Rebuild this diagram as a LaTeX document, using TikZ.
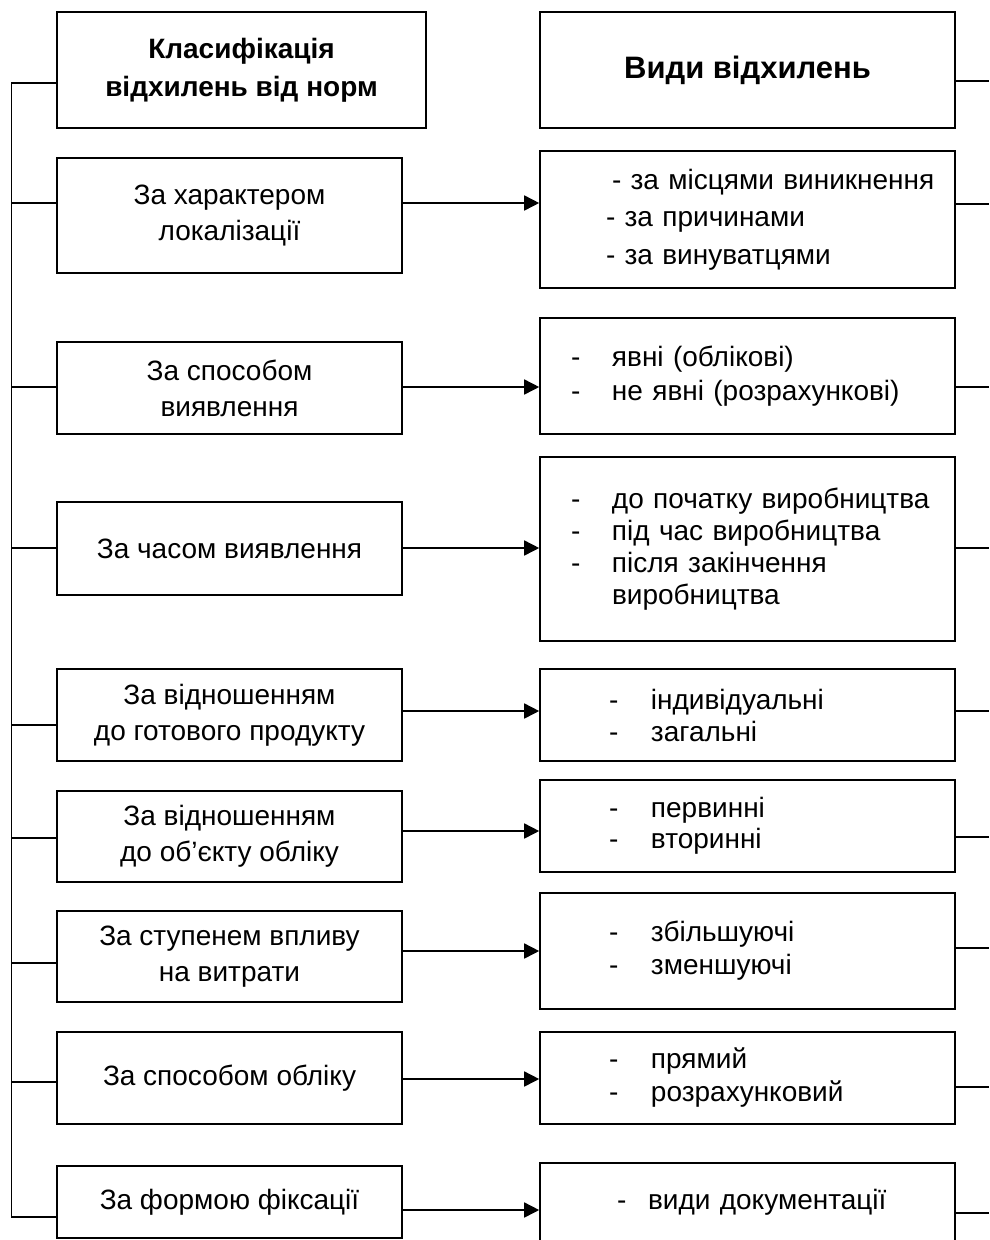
\documentclass[tikz,border=0pt]{standalone}
\usepackage{fontspec}
\setmainfont{Liberation Sans}
\usetikzlibrary{arrows.meta}
\newcommand\itm[3]{\makebox[0pt][l]{\hspace*{#1pt}-}\hspace*{#2pt}#3}
\begin{document}
\begin{tikzpicture}[x=1pt,y=-1pt,
  box/.style={draw, line width=1.6pt, inner sep=0pt, align=center,
    font=\fontsize{28}{36}\selectfont},
  lbox/.style={box, minimum width=345pt},
  rbox/.style={box, minimum width=415pt, text width=415pt, align=left},
  hdr/.style={box, font=\fontsize{28}{38}\selectfont\bfseries},
  conn/.style={line width=1.6pt},
  arr/.style={conn, -{Triangle[length=15pt,width=15pt]}}]
\useasboundingbox (0,0) rectangle (989,1240);
% left column
\node[hdr, minimum width=369pt, minimum height=116pt] (L1) at (241.5,70) {Класифікація\\відхилень від норм};
\node[lbox, minimum height=115pt] (L2) at (229.5,215.5) {За характером\\локалізації};
\node[lbox, minimum height=92pt] (L3) at (229.5,388) {За способом\\виявлення};
\node[lbox, minimum height=93pt] (L4) at (229.5,548.5) {За часом виявлення};
\node[lbox, minimum height=92pt] (L5) at (229.5,715) {За відношенням\\до готового продукту};
\node[lbox, minimum height=91pt] (L6) at (229.5,836.5) {За відношенням\\до об’єкту обліку};
\node[lbox, minimum height=91pt] (L7) at (229.5,956.5) {За ступенем впливу\\на витрати};
\node[lbox, minimum height=92pt] (L8) at (229.5,1078) {За способом обліку};
\node[lbox, minimum height=72pt] (L9) at (229.5,1202) {За формою фіксації};
% right column
\node[hdr, minimum width=415pt, minimum height=116pt, font=\fontsize{31}{38}\selectfont\bfseries] (R1) at (747.5,70) {Види відхилень};
\node[rbox, minimum height=137pt, font=\fontsize{28}{37.5}\selectfont] (R2) at (747.5,219.5)
  {\hspace*{72pt}- за місцями виникнення\\\hspace*{66pt}- за причинами\\\hspace*{66pt}- за винуватцями};
\node[rbox, minimum height=116pt, font=\fontsize{28}{34}\selectfont] (R3) at (747.5,376)
  {\itm{31}{72}{явні (облікові)}\\\itm{31}{72}{не явні (розрахункові)}};
\node[rbox, minimum height=184pt, font=\fontsize{28}{32}\selectfont] (R4) at (747.5,549)
  {\itm{31}{72}{до початку виробництва}\\\itm{31}{72}{під час виробництва}\\\itm{31}{72}{після закінчення}\\\hspace*{72pt}виробництва};
\node[rbox, minimum height=92pt, font=\fontsize{28}{32}\selectfont] (R5) at (747.5,715)
  {\itm{69}{111}{індивідуальні}\\\itm{69}{111}{загальні}};
\node[rbox, minimum height=92pt, font=\fontsize{28}{31}\selectfont] (R6) at (747.5,826)
  {\itm{69}{111}{первинні}\\\itm{69}{111}{вторинні}};
\node[rbox, minimum height=116pt, font=\fontsize{28}{33}\selectfont] (R7) at (747.5,951)
  {\itm{69}{111}{збільшуючі}\\\itm{69}{111}{зменшуючі}};
\node[rbox, minimum height=92pt, font=\fontsize{28}{33}\selectfont] (R8) at (747.5,1078)
  {\itm{69}{111}{прямий}\\\itm{69}{111}{розрахунковий}};
\node[rbox, minimum height=79pt] (R9) at (747.5,1202.5)
  {\itm{77}{108}{види документації}};
% bus on the left
\coordinate (bus) at (11.5,0);
\draw[conn] (L1.west |- 0,83) -| (bus |- 0,1217) -- (L9.west |- 0,1217);
\foreach \n/\y in {L2/203, L3/387, L4/548, L5/725, L6/838, L7/963, L8/1082}
  \draw[conn] (bus |- 0,\y) -- (\n.west |- 0,\y);
% arrows
\foreach \a/\b/\y in {L2/R2/203, L3/R3/387, L4/R4/548, L5/R5/711, L6/R6/831, L7/R7/951, L8/R8/1079, L9/R9/1210}
  \draw[arr] (\a.east |- 0,\y) -- (\b.west |- 0,\y);
% right stubs
\coordinate (edge) at (989,0);
\foreach \n/\y in {R1/81, R2/204, R3/387, R4/548, R5/711, R6/837, R7/948, R8/1087, R9/1213}
  \draw[conn] (\n.east |- 0,\y) -- (edge |- 0,\y);
\end{tikzpicture}
\end{document}
